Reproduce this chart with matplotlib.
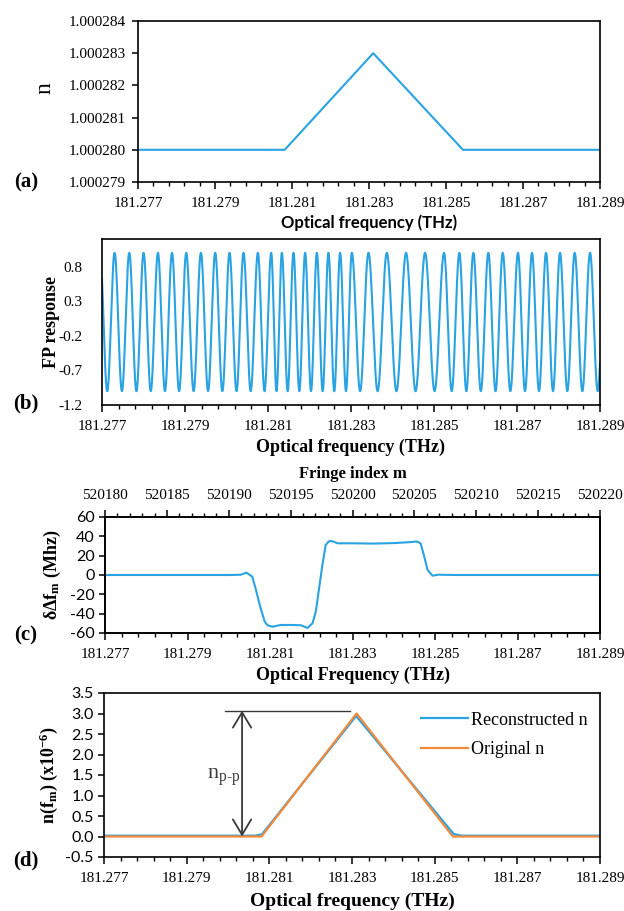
"""
Refractive index profile, FP response, fringe spacing shift and reconstruction
"""
import numpy as np
import matplotlib
matplotlib.use("Agg")
import matplotlib.pyplot as plt
from matplotlib.ticker import FixedLocator, AutoMinorLocator, MultipleLocator, FormatStrFormatter

# ---- data ----
freq_ticks = [181.277, 181.279, 181.281, 181.283, 181.285, 181.287, 181.289]

# (a) refractive index profile
n_freq = [181.277, 181.28081, 181.28311, 181.28544, 181.289]
n_vals = [1.000280, 1.000280, 1.000283, 1.000280, 1.000280]
n_ticks = [1.000279, 1.000280, 1.000281, 1.000282, 1.000283, 1.000284]

# (b) FP response: frequencies of the fringe maxima
fp_peaks = [181.277303, 181.277657, 181.278002, 181.278348, 181.278686, 181.279030,
            181.279384, 181.279728, 181.280073, 181.280410, 181.280756, 181.281077,
            181.281334, 181.281614, 181.281895, 181.282177, 181.282456, 181.282738,
            181.283020, 181.283420, 181.283863, 181.284327, 181.284785, 181.285242,
            181.285611, 181.285948, 181.286309, 181.286656, 181.287024, 181.287361,
            181.287699, 181.288036, 181.288390, 181.288760]
fp_ticks = [-1.2, -0.7, -0.2, 0.3, 0.8]

# (c) fringe spacing change
dff_freq = [181.277, 181.28000, 181.28029, 181.28043, 181.28057, 181.28065, 181.28077,
            181.28087, 181.28094, 181.28106, 181.28126, 181.28154, 181.28175, 181.28191,
            181.28203, 181.28211, 181.28219, 181.28227, 181.28235, 181.28243, 181.28251,
            181.28264, 181.28300, 181.28350, 181.28400, 181.28440, 181.28455, 181.28465,
            181.28474, 181.28482, 181.28494, 181.28508, 181.28550, 181.289]
dff_vals = [0, 0, 0.3, 2.4, -1.7, -13.8, -34, -48, -52, -53.5, -51.7, -51.7, -52, -54.8,
            -50, -38, -13.8, 10.3, 31, 35, 35, 32.8, 32.8, 32.5, 33, 34, 34.7, 32.9,
            19, 5.2, -0.7, 0.3, 0, 0]
fringe_range = [520180, 520220]

# (d) reconstructed vs original index change (x1e-6)
rec_freq = [181.277, 181.28065, 181.28082, 181.28310, 181.28546, 181.28565, 181.289]
rec_vals = [0.02, 0.02, 0.05, 2.94, 0.06, 0.02, 0.02]
orig_freq = [181.277, 181.28081, 181.28311, 181.28544, 181.289]
orig_vals = [0, 0, 3.0, 0, 0]
npp_top = 3.07
npp_bar = [181.27993, 181.28295]
npp_arrow_x = 181.28034

BLUE = "#29a3e2"
ORANGE = "#f28a3c"
GREY = "#3a3a3a"
SANS = ["Lato", "DejaVu Sans"]

plt.rcParams["font.family"] = ["Liberation Serif", "DejaVu Serif"]
plt.rcParams["mathtext.fontset"] = "custom"
plt.rcParams["mathtext.rm"] = "Liberation Serif"
plt.rcParams["mathtext.it"] = "Liberation Serif:italic"
plt.rcParams["mathtext.bf"] = "Liberation Serif:bold"
plt.rcParams["axes.linewidth"] = 1.2
plt.rcParams["axes.unicode_minus"] = False


def freq_axis(ax):
    ax.set_xlim(freq_ticks[0], freq_ticks[-1])
    ax.xaxis.set_major_locator(FixedLocator(freq_ticks))
    ax.xaxis.set_major_formatter(FormatStrFormatter("%.3f"))
    ax.xaxis.set_minor_locator(AutoMinorLocator(5))
    ax.tick_params(axis="x", which="major", direction="out", length=5, width=1.1,
                   labelsize=11, pad=6)
    ax.tick_params(axis="x", which="minor", direction="out", length=3, width=1.0)
    ax.tick_params(axis="y", which="major", direction="out", length=4, width=1.1,
                   labelsize=11)


def fp_curve(f):
    # phase goes up by 2*pi from one fringe maximum to the next
    peaks = np.array(fp_peaks)
    idx = np.arange(len(peaks))
    k = np.interp(f, peaks, idx)
    first = (peaks[1] - peaks[0])
    last = (peaks[-1] - peaks[-2])
    k = np.where(f < peaks[0], (f - peaks[0]) / first, k)
    k = np.where(f > peaks[-1], idx[-1] + (f - peaks[-1]) / last, k)
    return np.cos(2 * np.pi * k)


fig = plt.figure(figsize=(6.24, 9.11), dpi=100)
W, H = 624.0, 911.0


def box(l, t, r, b):
    return [l / W, 1 - b / H, (r - l) / W, (b - t) / H]


# ---- (a) ----
ax_a = fig.add_axes(box(138, 21, 600, 182))
ax_a.plot(n_freq, n_vals, color=BLUE, lw=1.5)
freq_axis(ax_a)
ax_a.set_ylim(n_ticks[0], n_ticks[-1])
ax_a.yaxis.set_major_locator(FixedLocator(n_ticks))
ax_a.yaxis.set_major_formatter(FormatStrFormatter("%.6f"))
ax_a.tick_params(axis="y", pad=5)
ax_a.set_xlabel("Optical frequency (THz)", family=SANS, fontweight="bold",
                fontsize=12, labelpad=3)
fig.text(45 / W, 1 - 88 / H, "n", rotation=90, fontsize=17, ha="center", va="center")
fig.text(26 / W, 1 - 182 / H, "(a)", fontsize=15, fontweight="bold", ha="center", va="center")

# ---- (b) ----
ax_b = fig.add_axes(box(102, 239, 600, 405))
fb = np.linspace(freq_ticks[0], freq_ticks[-1], 6000)
ax_b.plot(fb, fp_curve(fb), color=BLUE, lw=1.5)
freq_axis(ax_b)
ax_b.set_ylim(-1.2, 1.2)
ax_b.yaxis.set_major_locator(FixedLocator(fp_ticks))
ax_b.yaxis.set_major_formatter(FormatStrFormatter("%.1f"))
ax_b.tick_params(axis="y", length=0, pad=14)
ax_b.set_xlabel("Optical frequency (THz)", fontweight="bold", fontsize=13, labelpad=4)
fig.text(52 / W, 1 - 322 / H, "FP response", rotation=90, fontsize=13,
         fontweight="bold", ha="center", va="center")
fig.text(26 / W, 1 - 403 / H, "(b)", fontsize=15, fontweight="bold", ha="center", va="center")

# ---- (c) ----
ax_c = fig.add_axes(box(105, 517, 600, 633))
ax_c.plot(dff_freq, dff_vals, color=BLUE, lw=1.5)
freq_axis(ax_c)
ax_c.set_ylim(-60, 60)
ax_c.yaxis.set_major_locator(MultipleLocator(20))
for lab in ax_c.get_yticklabels():
    lab.set_family(SANS)
ax_c.tick_params(axis="y", labelsize=11.5)
ax_c.set_xlabel("Optical Frequency (THz)", fontweight="bold", fontsize=13, labelpad=4)
ax_top = ax_c.twiny()
ax_top.set_xlim(fringe_range)
ax_top.xaxis.set_major_locator(MultipleLocator(5))
ax_top.xaxis.set_minor_locator(MultipleLocator(1))
ax_top.tick_params(axis="x", which="major", direction="out", length=5, width=1.1,
                   labelsize=11, pad=6)
ax_top.tick_params(axis="x", which="minor", direction="out", length=3, width=1.0)
ax_top.set_xlabel("Fringe index m", fontweight="bold", fontsize=12, labelpad=8)
fig.text(52 / W, 1 - 575 / H, r"δΔf$_\mathbf{m}$ (Mhz)", rotation=90, fontsize=13,
         fontweight="bold", ha="center", va="center")
fig.text(26 / W, 1 - 635 / H, "(c)", fontsize=15, fontweight="bold", ha="center", va="center")

# ---- (d) ----
ax_d = fig.add_axes(box(104, 693, 600, 857))
ax_d.plot(rec_freq, rec_vals, color=BLUE, lw=1.6, label="Reconstructed n")
ax_d.plot(orig_freq, orig_vals, color=ORANGE, lw=1.6, label="Original n")
freq_axis(ax_d)
ax_d.set_ylim(-0.5, 3.5)
ax_d.yaxis.set_major_locator(MultipleLocator(0.5))
ax_d.yaxis.set_major_formatter(FormatStrFormatter("%.1f"))
for lab in ax_d.get_yticklabels():
    lab.set_family(SANS)
ax_d.tick_params(axis="y", labelsize=11.5)
ax_d.set_xlabel("Optical frequency (THz)", fontweight="bold", fontsize=14, labelpad=5)
ax_d.plot(npp_bar, [npp_top, npp_top], color=GREY, lw=1.0)
ax_d.annotate("", xy=(npp_arrow_x, 0.0), xytext=(npp_arrow_x, npp_top),
              arrowprops=dict(arrowstyle="<->,head_length=0.5,head_width=0.3",
                              color=GREY, lw=1.3, mutation_scale=22,
                              shrinkA=0, shrinkB=0))
ax_d.text(npp_arrow_x - 0.00004, 1.45, r"n$_{\mathrm{p\text{-}p}}$", fontsize=16,
          ha="right", va="center", color=GREY)
ax_d.legend(loc="upper right", bbox_to_anchor=(0.99, 0.93), frameon=False,
            handlelength=2.6, handletextpad=0.2, labelspacing=0.7, fontsize=13,
            borderaxespad=0)
fig.text(49 / W, 1 - 775 / H, r"n(f$_\mathbf{m}$) (x10$^\mathbf{-6}$)", rotation=90,
         fontsize=13, fontweight="bold", ha="center", va="center")
fig.text(26 / W, 1 - 860 / H, "(d)", fontsize=15, fontweight="bold", ha="center", va="center")

fig.savefig("out.png", dpi=100)
